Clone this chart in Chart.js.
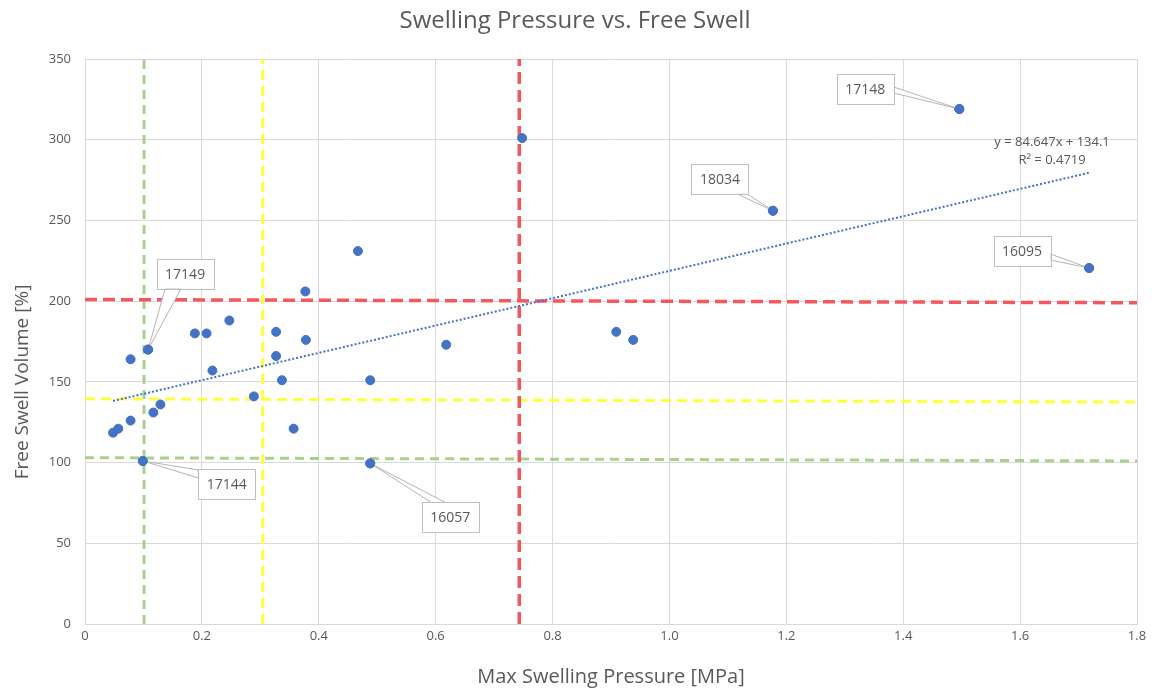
<!DOCTYPE html>
<html>
<head>
<meta charset="utf-8">
<title>Swelling Pressure vs. Free Swell</title>
<script src="https://cdn.jsdelivr.net/npm/chart.js@4.4.0/dist/chart.umd.min.js"></script>
<style>
    html, body { margin: 0; padding: 0; background: #fff; }
    #wrap { width: 1152px; height: 689px; }
</style>
</head>
<body>
<div id="wrap"><canvas id="chart"></canvas></div>
<script>
// Max swelling pressure [MPa] and free swell volume [%] per sample
const pressure = [0.048, 0.057, 0.078, 0.078, 0.108, 0.099, 0.117, 0.129, 0.188, 0.208,
    0.247, 0.218, 0.289, 0.327, 0.327, 0.337, 0.357, 0.378, 0.377, 0.467,
    0.488, 0.488, 0.618, 0.909, 0.938, 0.748, 1.177, 1.496, 1.718]
const freeSwell = [118.5, 121, 126, 164, 170, 101, 131, 136, 180, 180,
    188, 157, 141, 181, 166, 151, 121, 176, 206, 231,
    151, 99.5, 173, 181, 176, 301, 256, 319, 220.5]

// Samples that carry a label (index into the arrays above)
const calloutIds = ["17149", "17144", "16057", "18034", "17148", "16095"]
const calloutIndex = [4, 5, 21, 26, 27, 28]

// Linear trendline
const trendSlope = 84.647
const trendIntercept = 134.1
const trendR2 = "0.4719"

// Threshold lines (vertical at x, horizontal from left value to right value)
const redX = 0.743
const yellowX = 0.304
const greenX = 0.101
const redY = [201, 199]
const yellowY = [139.5, 137.5]
const greenY = [103, 101]

// Axis ranges
const xMax = 1.8
const xStep = 0.2
const yMax = 350
const yStep = 50

const chartTitle = "Swelling Pressure vs. Free Swell"
const xTitle = "Max Swelling Pressure [MPa]"
const yTitle = "Free Swell Volume [%]"

const FONT = "'Open Sans', 'DejaVu Sans', sans-serif"
const TEXT = "#595959"

const points = pressure.map((x, i) => ({ x: x, y: freeSwell[i] }))
const xLo = Math.min(...pressure)
const xHi = Math.max(...pressure)
const trend = [
    { x: xLo, y: trendSlope * xLo + trendIntercept },
    { x: xHi, y: trendSlope * xHi + trendIntercept },
]

function vLine(x) { return [{ x: x, y: 0 }, { x: x, y: yMax }] }
function hLine(v) { return [{ x: 0, y: v[0] }, { x: xMax, y: v[1] }] }

function lineSet(data, color, dash, width) {
    return {
        data: data,
        showLine: true,
        borderColor: color,
        borderWidth: width,
        borderDash: dash,
        pointRadius: 0,
        fill: false,
    }
}

// box placement relative to its point, and where the pointer leaves the box
const calloutLayout = [
    { dx: 37, dy: -76, edge: "bottom", a: -20, b: -4 },
    { dx: 84, dy: 23, edge: "left", a: -14, b: -6 },
    { dx: 80, dy: 54, edge: "top", a: -19, b: -5 },
    { dx: -53, dy: -32, edge: "bottom", a: 17, b: 27 },
    { dx: -94, dy: -20, edge: "right", a: -2, b: 4 },
    { dx: -67, dy: -17, edge: "right", a: 3, b: 9 },
]

const calloutPlugin = {
    id: "callouts",
    afterDatasetsDraw(chart) {
        const ctx = chart.ctx
        const meta = chart.getDatasetMeta(0)
        const bw = 57, bh = 30
        ctx.save()
        calloutIds.forEach((id, k) => {
            const el = meta.data[calloutIndex[k]]
            const L = calloutLayout[k]
            const cx = el.x + L.dx
            const cy = el.y + L.dy
            let p1, p2
            if (L.edge === "bottom") { p1 = [cx + L.a, cy + bh / 2]; p2 = [cx + L.b, cy + bh / 2] }
            if (L.edge === "top") { p1 = [cx + L.a, cy - bh / 2]; p2 = [cx + L.b, cy - bh / 2] }
            if (L.edge === "left") { p1 = [cx - bw / 2, cy + L.a]; p2 = [cx - bw / 2, cy + L.b] }
            if (L.edge === "right") { p1 = [cx + bw / 2, cy + L.a]; p2 = [cx + bw / 2, cy + L.b] }

            // pointer wedge
            ctx.beginPath()
            ctx.moveTo(p1[0], p1[1])
            ctx.lineTo(el.x, el.y)
            ctx.lineTo(p2[0], p2[1])
            ctx.closePath()
            ctx.fillStyle = "#ffffff"
            ctx.fill()
            ctx.strokeStyle = "#b4b4b4"
            ctx.lineWidth = 1
            ctx.stroke()

            // label box
            ctx.fillStyle = "#ffffff"
            ctx.fillRect(cx - bw / 2, cy - bh / 2, bw, bh)
            ctx.strokeStyle = "#bfbfbf"
            ctx.strokeRect(Math.round(cx - bw / 2) + 0.5, Math.round(cy - bh / 2) + 0.5, bw, bh)
            ctx.fillStyle = TEXT
            ctx.font = "14px " + FONT
            ctx.textAlign = "center"
            ctx.textBaseline = "middle"
            ctx.fillText(id, cx, cy + 1)

            // keep the marker above its pointer
            el.draw(ctx)
        })
        ctx.restore()
    },
}

const trendLabelPlugin = {
    id: "trendLabel",
    afterDatasetsDraw(chart) {
        const ctx = chart.ctx
        const sx = chart.scales.x
        const sy = chart.scales.y
        const ex = sx.getPixelForValue(xHi)
        const ey = sy.getPixelForValue(trendSlope * xHi + trendIntercept)
        ctx.save()
        ctx.fillStyle = TEXT
        ctx.font = "13px " + FONT
        ctx.textAlign = "center"
        ctx.textBaseline = "middle"
        ctx.fillText("y = " + trendSlope + "x + " + trendIntercept, ex - 37, ey - 30)
        ctx.fillText("R\u00b2 = " + trendR2, ex - 37, ey - 12)
        ctx.restore()
    },
}

// chart title and the y axis title sit a little off-centre, so draw them here
const titlesPlugin = {
    id: "titles",
    afterDraw(chart) {
        const ctx = chart.ctx
        ctx.save()
        ctx.fillStyle = TEXT
        ctx.textAlign = "center"
        ctx.textBaseline = "middle"
        ctx.font = "24px " + FONT
        ctx.fillText(chartTitle, 575, 21)
        ctx.font = "19px " + FONT
        ctx.translate(23, 382)
        ctx.rotate(-Math.PI / 2)
        ctx.fillText(yTitle, 0, 0)
        ctx.restore()
    },
}

new Chart(document.getElementById("chart"), {
    type: "scatter",
    data: {
        datasets: [
            {
                data: points,
                backgroundColor: "#4472c4",
                borderColor: "#4472c4",
                pointRadius: 4.5,
                pointHoverRadius: 4.5,
            },
            lineSet(trend, "#4472c4", [2, 2], 2),
            lineSet(vLine(redX), "#f4585e", [12, 6], 3.5),
            lineSet(hLine(redY), "#f4585e", [12, 6], 3.5),
            lineSet(vLine(yellowX), "#ffff3c", [10, 6], 3),
            lineSet(hLine(yellowY), "#ffff3c", [10, 6], 3),
            lineSet(vLine(greenX), "#a9d18e", [9, 6], 3),
            lineSet(hLine(greenY), "#a9d18e", [9, 6], 3),
        ],
    },
    options: {
        responsive: true,
        maintainAspectRatio: false,
        animation: false,
        layout: { padding: { left: 0, right: 15, top: 59, bottom: 0 } },
        plugins: {
            legend: { display: false },
            tooltip: { enabled: false },
            title: { display: false },
        },
        scales: {
            x: {
                type: "linear",
                min: 0,
                max: xMax,
                ticks: { stepSize: xStep, color: TEXT, font: { family: FONT, size: 13 }, padding: 4, maxRotation: 0 },
                grid: { color: "#d9d9d9", drawTicks: false },
                border: { color: "#d9d9d9" },
                title: {
                    display: true,
                    text: xTitle,
                    color: TEXT,
                    font: { family: FONT, size: 20 },
                    padding: { top: 0, bottom: 0 },
                },
                afterFit(scale) { scale.height = 65 },
            },
            y: {
                min: 0,
                max: yMax,
                ticks: { stepSize: yStep, color: TEXT, font: { family: FONT, size: 13 }, padding: 14 },
                grid: { color: "#d9d9d9", drawTicks: false },
                border: { color: "#d9d9d9" },
                afterFit(scale) { scale.width = 85 },
            },
        },
    },
    plugins: [calloutPlugin, trendLabelPlugin, titlesPlugin],
})
</script>
</body>
</html>
